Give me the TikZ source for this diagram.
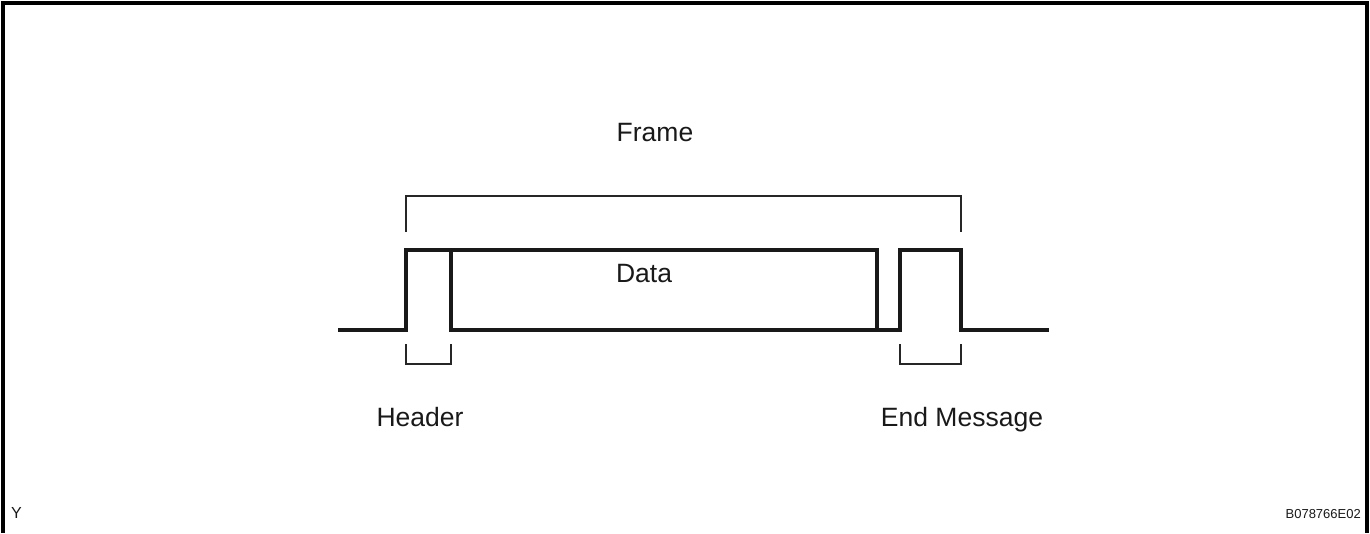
\documentclass[tikz,border=0pt]{standalone}
\usepackage{fontspec}
\setmainfont{Liberation Sans}
\begin{document}
\begin{tikzpicture}[x=1pt,y=-1pt,
  signal/.style={line width=3.8pt,line join=miter,line cap=butt,draw=black!90},
  bracket/.style={line width=1.4pt,draw=black!85},
  outline/.style={line width=3.5pt},
  label/.style={inner sep=0pt,anchor=base,text=black!90},
  biglabel/.style={label,font=\fontsize{26.5}{30}\selectfont},
]
\useasboundingbox (0,0) rectangle (1370,533);
% outer frame, open at the bottom
\draw[outline] (3,533) -- (3,3) -- (1367,3) -- (1367,533);

% signal levels
\coordinate (lo0) at (338,330);
\coordinate (r1) at (406,330);
\coordinate (r1h) at (406,250);
\coordinate (f1h) at (877,250);
\coordinate (f1) at (877,330);
\coordinate (r2) at (900,330);
\coordinate (r2h) at (900,250);
\coordinate (f2h) at (961,250);
\coordinate (f2) at (961,330);
\coordinate (lo1) at (1049,330);
\coordinate (dTop) at (451,250);
\coordinate (dBot) at (451,330);

% waveform
\draw[signal] (lo0) -- (r1) -- (r1h) -- (f1h) -- (f1) -- (r2) -- (r2h) -- (f2h) -- (f2) -- (lo1);
\draw[signal] (dTop) -- (dBot) -- (f1);

% frame bracket
\draw[bracket] (406,232) -- (406,196) -- (961,196) -- (961,232);
% header bracket
\draw[bracket] (406,344) -- (406,364) -- (451,364) -- (451,344);
% end message bracket
\draw[bracket] (900,344) -- (900,364) -- (961,364) -- (961,344);

% labels
\node[biglabel] (frame) at (655,141) {Frame};
\node[biglabel] (data) at (644,282) {Data};
\node[biglabel] (header) at (420,426) {Header};
\node[biglabel] (endmsg) at (962,426) {End Message};
\node[label,font=\fontsize{16}{18}\selectfont,anchor=base west] (ymark) at (11,518) {Y};
\node[label,font=\fontsize{13}{16}\selectfont,anchor=base east] (code) at (1361,518) {B078766E02};
\end{tikzpicture}
\end{document}
